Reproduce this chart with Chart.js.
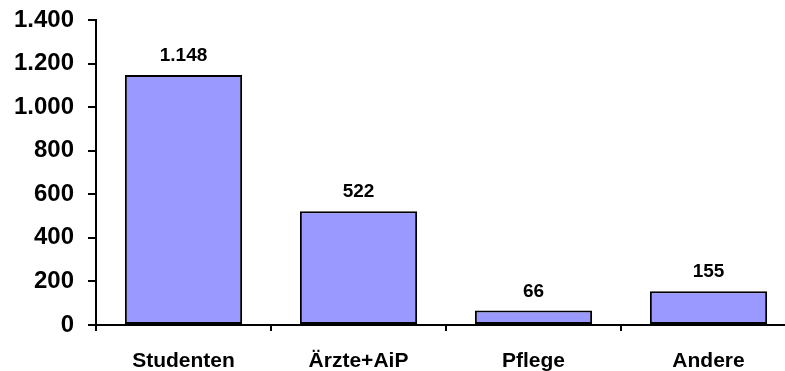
<!DOCTYPE html>
<html>
<head>
<meta charset="utf-8">
<script src="https://cdn.jsdelivr.net/npm/chart.js@4/dist/chart.umd.min.js"></script>
<style>
  html, body { margin: 0; padding: 0; background: #fff; overflow: hidden; }
  #wrap { width: 800px; height: 371px; position: relative; }
</style>
</head>
<body>
<div id="wrap"><canvas id="c"></canvas></div>
<script>
// Personengruppen und Anzahl
const categories = ['Studenten', 'Ärzte+AiP', 'Pflege', 'Andere'];
const counts = [1148, 522, 66, 155];
const yTicks = [0, 200, 400, 600, 800, 1000, 1200, 1400];

const FONT = '"Liberation Sans", Arial, sans-serif';

// Tausenderpunkt nach deutscher Schreibweise
function fmt(v) {
  return String(Math.round(v)).replace(/\B(?=(\d{3})+(?!\d))/g, '.');
}

// Werte über den Säulen
const valueLabels = {
  id: 'valueLabels',
  afterDatasetsDraw(chart) {
    const ctx = chart.ctx;
    const meta = chart.getDatasetMeta(0);
    ctx.save();
    ctx.fillStyle = '#000';
    ctx.font = 'bold 19px ' + FONT;
    ctx.textAlign = 'center';
    ctx.textBaseline = 'alphabetic';
    meta.data.forEach((bar, i) => {
      ctx.fillText(fmt(chart.data.datasets[0].data[i]), bar.x, bar.y - 14);
    });
    ctx.restore();
  }
};

new Chart(document.getElementById('c'), {
  type: 'bar',
  data: {
    labels: categories,
    datasets: [{
      data: counts,
      backgroundColor: '#9999FF',
      borderColor: '#000',
      borderWidth: 2,
      borderSkipped: false,
      barPercentage: 0.67,
      categoryPercentage: 1
    }]
  },
  options: {
    responsive: true,
    maintainAspectRatio: false,
    animation: false,
    devicePixelRatio: 1,
    layout: { padding: { top: 20, right: 4, left: 0, bottom: 0 } },
    plugins: { legend: { display: false }, tooltip: { enabled: false } },
    scales: {
      x: {
        offset: true,
        grid: { offset: true, drawOnChartArea: false, drawTicks: true, tickLength: 6, color: '#000', lineWidth: 2 },
        border: { display: true, color: '#000', width: 2 },
        ticks: { color: '#000', font: { family: FONT, size: 21, weight: 'bold' }, padding: 18, maxRotation: 0 },
        afterFit(scale) { scale.height = 46; }
      },
      y: {
        min: 0,
        max: 1400,
        afterBuildTicks(scale) { scale.ticks = yTicks.map(v => ({ value: v })); },
        grid: { drawOnChartArea: false, drawTicks: true, tickLength: 8, color: '#000', lineWidth: 2 },
        border: { display: true, color: '#000', width: 2 },
        ticks: {
          color: '#000',
          font: { family: FONT, size: 24, weight: 'bold', lineHeight: 0.8 },
          padding: 14,
          callback: v => fmt(v)
        },
        afterFit(scale) {
          scale.width = 96;
          scale.paddingTop = 0;
          scale.paddingBottom = 0;
        }
      }
    }
  },
  plugins: [valueLabels]
});
</script>
</body>
</html>
